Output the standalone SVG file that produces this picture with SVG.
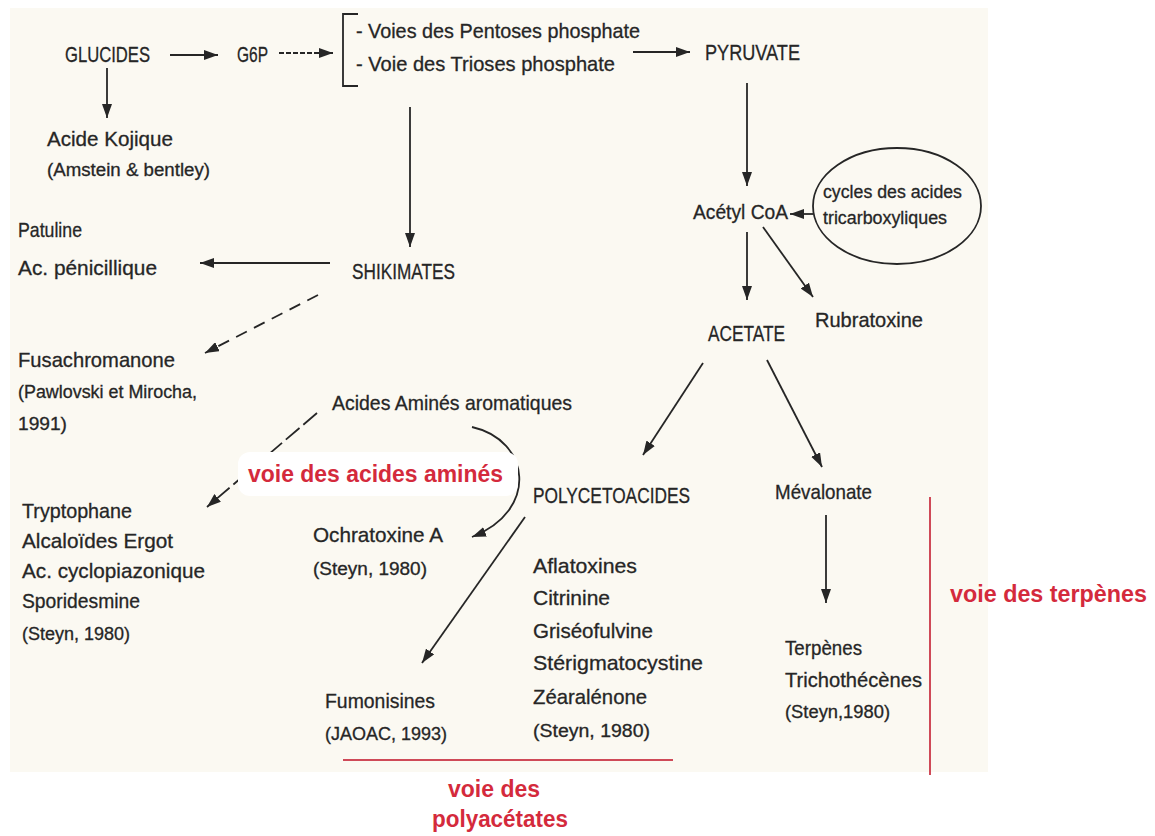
<svg xmlns="http://www.w3.org/2000/svg" width="1155" height="836" viewBox="0 0 1155 836">
<defs>
<marker id="ah" viewBox="0 0 14 10" refX="14" refY="5" markerWidth="14" markerHeight="10" markerUnits="userSpaceOnUse" orient="auto"><path d="M0,0 L14,5 L0,10 z" fill="#262626"/></marker>
<style>
.t{font-family:"Liberation Sans",Arial,sans-serif;font-size:21px;fill:#262626;stroke:#262626;stroke-width:0.3}
.u{font-size:22px}
.c{font-size:17.5px}
.r{font-family:"Liberation Sans",Arial,sans-serif;font-weight:bold;font-size:23px;fill:#d42a3c}
.ln{stroke:#262626;stroke-width:1.8;fill:none}
.rl{stroke:#cf4a58;stroke-width:2;fill:none}
</style>
</defs>
<rect width="1155" height="836" fill="#ffffff"/>
<rect x="10" y="8" width="978" height="764" fill="#fbf9f2"/>

<g id="connectors">
<line class="ln" x1="170" y1="55" x2="218" y2="55" marker-end="url(#ah)"/>
<line class="ln" x1="279" y1="53" x2="333" y2="53" stroke-dasharray="5 2" marker-end="url(#ah)"/>
<line class="ln" x1="107" y1="68" x2="107" y2="118" marker-end="url(#ah)"/>
<line class="ln" x1="633" y1="52" x2="690" y2="52" marker-end="url(#ah)"/>
<line class="ln" x1="747" y1="83" x2="747" y2="186" marker-end="url(#ah)"/>
<line class="ln" x1="813" y1="214" x2="790" y2="214" marker-end="url(#ah)"/>
<line class="ln" x1="747" y1="232" x2="747" y2="300" marker-end="url(#ah)"/>
<line class="ln" x1="763" y1="227" x2="813" y2="297" marker-end="url(#ah)"/>
<line class="ln" x1="410" y1="107" x2="410" y2="247" marker-end="url(#ah)"/>
<line class="ln" x1="330" y1="263" x2="200" y2="263" marker-end="url(#ah)"/>
<line class="ln" x1="318" y1="295" x2="205" y2="353" stroke-dasharray="12 8" marker-end="url(#ah)"/>
<line class="ln" x1="703" y1="363" x2="643" y2="455" marker-end="url(#ah)"/>
<line class="ln" x1="767" y1="360" x2="822" y2="467" marker-end="url(#ah)"/>
<line class="ln" x1="826" y1="515" x2="826" y2="603" marker-end="url(#ah)"/>
<line class="ln" x1="317" y1="413" x2="207" y2="507" stroke-dasharray="18 5" marker-end="url(#ah)"/>
<path class="ln" d="M472,427 C530,440 540,510 472,537" marker-end="url(#ah)"/>
<line class="ln" x1="525" y1="517" x2="422" y2="663" marker-end="url(#ah)"/>
<path class="ln" d="M358,14 L343,14 L343,86 L358,86"/>
<line class="rl" x1="343" y1="760" x2="673" y2="760"/>
<line class="rl" x1="930" y1="497" x2="930" y2="775"/>
</g>

<g id="n-glucides"><text class="t u" x="65" y="62" textLength="85" lengthAdjust="spacingAndGlyphs">GLUCIDES</text></g>
<g id="n-g6p"><text class="t u" x="237" y="62" textLength="31" lengthAdjust="spacingAndGlyphs">G6P</text></g>
<g id="n-voies">
<text class="t" x="356" y="38" textLength="284" lengthAdjust="spacingAndGlyphs">- Voies des Pentoses phosphate</text>
<text class="t" x="356" y="71" textLength="259" lengthAdjust="spacingAndGlyphs">- Voie des Trioses phosphate</text>
</g>
<g id="n-pyruvate"><text class="t u" x="705" y="60" textLength="95" lengthAdjust="spacingAndGlyphs">PYRUVATE</text></g>
<g id="n-kojique">
<text class="t" x="47" y="146" textLength="126" lengthAdjust="spacingAndGlyphs">Acide Kojique</text>
<text class="t c" x="47" y="176" textLength="163" lengthAdjust="spacingAndGlyphs">(Amstein &amp; bentley)</text>
</g>
<g id="n-acetylcoa"><text class="t" x="693" y="219" textLength="95" lengthAdjust="spacingAndGlyphs">Acétyl CoA</text></g>
<g id="n-cycles">
<ellipse cx="897" cy="206" rx="84" ry="58" class="ln"/>
<text class="t c" x="823" y="198" textLength="139" lengthAdjust="spacingAndGlyphs">cycles des acides</text>
<text class="t c" x="823" y="224" textLength="124" lengthAdjust="spacingAndGlyphs">tricarboxyliques</text>
</g>
<g id="n-rubratoxine"><text class="t" x="815" y="327" textLength="108" lengthAdjust="spacingAndGlyphs">Rubratoxine</text></g>
<g id="n-acetate"><text class="t u" x="708" y="341" textLength="77" lengthAdjust="spacingAndGlyphs">ACETATE</text></g>
<g id="n-patuline">
<text class="t" x="18" y="237" textLength="64" lengthAdjust="spacingAndGlyphs">Patuline</text>
<text class="t" x="18" y="275" textLength="139" lengthAdjust="spacingAndGlyphs">Ac. pénicillique</text>
</g>
<g id="n-shikimates"><text class="t u" x="352" y="279" textLength="103" lengthAdjust="spacingAndGlyphs">SHIKIMATES</text></g>
<g id="n-fusachromanone">
<text class="t" x="18" y="367" textLength="157" lengthAdjust="spacingAndGlyphs">Fusachromanone</text>
<text class="t c" x="18" y="398" textLength="179" lengthAdjust="spacingAndGlyphs">(Pawlovski et Mirocha,</text>
<text class="t c" x="18" y="430" textLength="49" lengthAdjust="spacingAndGlyphs">1991)</text>
</g>
<g id="n-aa"><text class="t" x="332" y="410" textLength="240" lengthAdjust="spacingAndGlyphs">Acides Aminés aromatiques</text></g>
<g id="n-label-aa">
<rect x="238" y="452" width="280" height="44" rx="12" fill="#ffffff"/>
<text class="r" x="248" y="482" textLength="255" lengthAdjust="spacingAndGlyphs">voie des acides aminés</text>
</g>
<g id="n-tryptophane">
<text class="t" x="22" y="518" textLength="110" lengthAdjust="spacingAndGlyphs">Tryptophane</text>
<text class="t" x="22" y="548" textLength="151" lengthAdjust="spacingAndGlyphs">Alcaloïdes Ergot</text>
<text class="t" x="22" y="578" textLength="183" lengthAdjust="spacingAndGlyphs">Ac. cyclopiazonique</text>
<text class="t" x="22" y="608" textLength="118" lengthAdjust="spacingAndGlyphs">Sporidesmine</text>
<text class="t c" x="22" y="640" textLength="108" lengthAdjust="spacingAndGlyphs">(Steyn, 1980)</text>
</g>
<g id="n-ochratoxine">
<text class="t" x="313" y="542" textLength="130" lengthAdjust="spacingAndGlyphs">Ochratoxine A</text>
<text class="t c" x="313" y="575" textLength="114" lengthAdjust="spacingAndGlyphs">(Steyn, 1980)</text>
</g>
<g id="n-polycetoacides"><text class="t u" x="533" y="503" textLength="157" lengthAdjust="spacingAndGlyphs">POLYCETOACIDES</text></g>
<g id="n-aflatoxines">
<text class="t" x="533" y="573" textLength="104" lengthAdjust="spacingAndGlyphs">Aflatoxines</text>
<text class="t" x="533" y="605" textLength="77" lengthAdjust="spacingAndGlyphs">Citrinine</text>
<text class="t" x="533" y="638" textLength="120" lengthAdjust="spacingAndGlyphs">Griséofulvine</text>
<text class="t" x="533" y="670" textLength="170" lengthAdjust="spacingAndGlyphs">Stérigmatocystine</text>
<text class="t" x="533" y="704" textLength="114" lengthAdjust="spacingAndGlyphs">Zéaralénone</text>
<text class="t c" x="533" y="737" textLength="117" lengthAdjust="spacingAndGlyphs">(Steyn, 1980)</text>
</g>
<g id="n-mevalonate"><text class="t" x="775" y="499" textLength="97" lengthAdjust="spacingAndGlyphs">Mévalonate</text></g>
<g id="n-terpenes">
<text class="t" x="785" y="655" textLength="77" lengthAdjust="spacingAndGlyphs">Terpènes</text>
<text class="t" x="785" y="687" textLength="137" lengthAdjust="spacingAndGlyphs">Trichothécènes</text>
<text class="t c" x="785" y="718" textLength="105" lengthAdjust="spacingAndGlyphs">(Steyn,1980)</text>
</g>
<g id="n-fumonisines">
<text class="t" x="325" y="708" textLength="110" lengthAdjust="spacingAndGlyphs">Fumonisines</text>
<text class="t c" x="325" y="740" textLength="122" lengthAdjust="spacingAndGlyphs">(JAOAC, 1993)</text>
</g>
<g id="n-label-poly">
<text class="r" x="448" y="797" textLength="92" lengthAdjust="spacingAndGlyphs">voie des</text>
<text class="r" x="432" y="827" textLength="136" lengthAdjust="spacingAndGlyphs">polyacétates</text>
</g>
<g id="n-label-terp"><text class="r" x="950" y="602" textLength="197" lengthAdjust="spacingAndGlyphs">voie des terpènes</text></g>
</svg>
